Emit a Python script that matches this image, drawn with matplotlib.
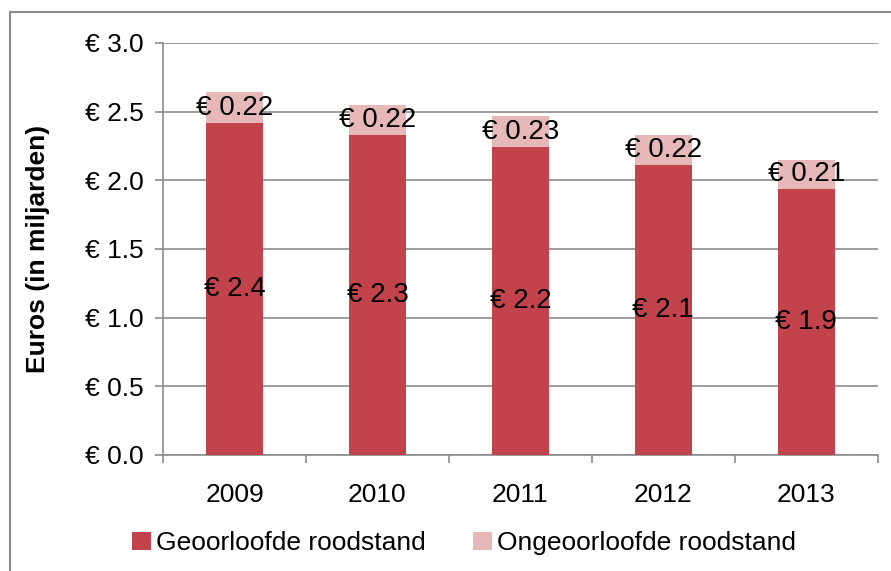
import matplotlib.pyplot as plt
from matplotlib.patches import Rectangle

plt.rcParams['font.family'] = ['Liberation Sans', 'DejaVu Sans']

jaren = ['2009', '2010', '2011', '2012', '2013']
geoorloofd = [2.42, 2.33, 2.24, 2.11, 1.94]
ongeoorloofd = [0.22, 0.22, 0.23, 0.22, 0.21]
y_ticks = [0.0, 0.5, 1.0, 1.5, 2.0, 2.5, 3.0]

kleur_donker = '#C3434C'
kleur_licht = '#E6B9B8'
grijs = '#8C8C8C'

fig = plt.figure(figsize=(8.91, 5.71), dpi=100)
ax = fig.add_axes([0.183, 0.2032, 0.802, 0.7215])

# buitenkader
fig.patches.append(Rectangle((10 / 891, -0.1), 1.2, 1 - 12 / 571 + 0.1,
                             transform=fig.transFigure, fill=False,
                             edgecolor=grijs, linewidth=1.5))

x = list(range(len(jaren)))
b1 = ax.bar(x, geoorloofd, width=0.4, color=kleur_donker,
            label='Geoorloofde roodstand', zorder=3)
b2 = ax.bar(x, ongeoorloofd, width=0.4, bottom=geoorloofd, color=kleur_licht,
            label='Ongeoorloofde roodstand', zorder=3)

for i in x:
    ax.text(i, geoorloofd[i] / 2, f'€ {geoorloofd[i]:.1f}', ha='center',
            va='center', fontsize=20, zorder=4)
    ax.text(i, geoorloofd[i] + ongeoorloofd[i] / 2, f'€ {ongeoorloofd[i]:.2f}',
            ha='center', va='center', fontsize=20, zorder=4)

ax.set_xlim(-0.5, 4.5)
ax.set_ylim(0, 3.0)
ax.set_yticks(y_ticks)
ax.set_yticklabels([f'€ {v:.1f}' for v in y_ticks], fontsize=19)
ax.set_xticks(x)
ax.set_xticklabels(jaren, fontsize=19)
ax.set_xticks([i - 0.5 for i in range(len(jaren) + 1)], minor=True)
ax.tick_params(axis='x', which='major', length=0, pad=20)
ax.tick_params(axis='x', which='minor', length=6, color=grijs, width=1.2)
ax.tick_params(axis='y', length=6, color=grijs, width=1.2, pad=8)

ax.yaxis.grid(True, color=grijs, linewidth=1.2, zorder=0)
for s in ['top', 'right']:
    ax.spines[s].set_visible(False)
for s in ['left', 'bottom']:
    ax.spines[s].set_color(grijs)
    ax.spines[s].set_linewidth(1.2)

ax.set_ylabel('Euros (in miljarden)', fontsize=19, fontweight='bold')
ax.yaxis.set_label_coords(-(163 - 50) / (0.802 * 891), 0.5)

fig.legend(handles=[b1, b2], loc='center', bbox_to_anchor=(0.521, 0.049),
           ncol=2, frameon=False, fontsize=19, handlelength=0.7,
           handleheight=0.7, handletextpad=0.2, columnspacing=1.8)

fig.savefig('out.png', dpi=100)
